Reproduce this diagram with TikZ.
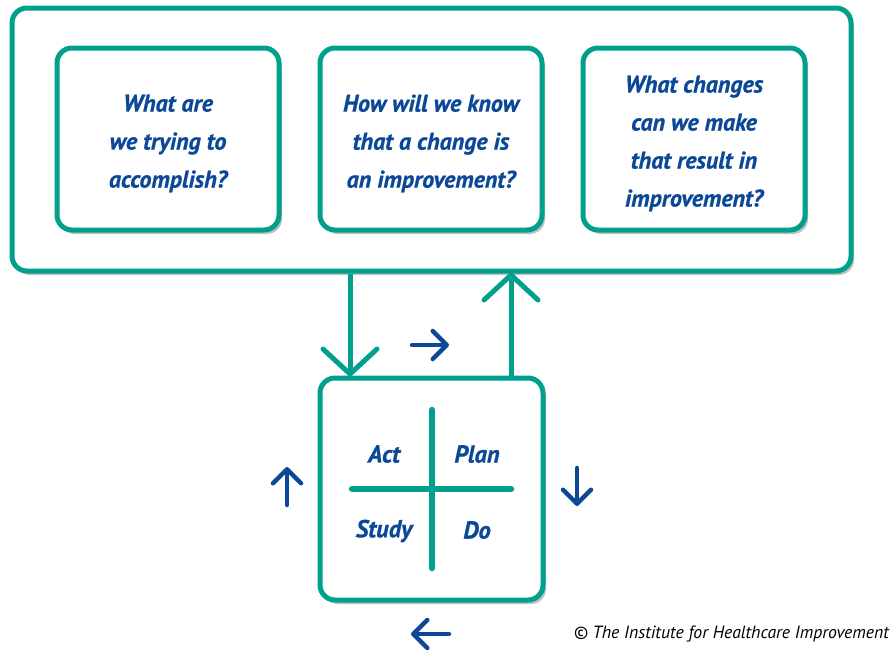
\documentclass[tikz,border=0pt]{standalone}
\usepackage{fontspec}
\setmainfont{PT Sans}[BoldItalicFeatures={FakeBold=0.8}]
\usetikzlibrary{shadows,arrows.meta,calc}
\definecolor{teal1}{RGB}{0,160,140}
\definecolor{blue1}{RGB}{12,72,152}
\tikzset{
  box/.style={draw=teal1, line width=5pt, rounded corners=15pt, fill=white,
    drop shadow={shadow xshift=3pt, shadow yshift=-4pt, opacity=0.35, fill=black!70},
    inner sep=0pt},
  qtext/.style={align=center, font=\fontsize{24}{38}\selectfont\bfseries\itshape, text=blue1, inner sep=0pt},
  lbl/.style={font=\fontsize{24.5}{26}\selectfont\bfseries\itshape, text=blue1, inner sep=0pt},
  bigarrow/.style={draw=teal1, line width=5pt, -{Straight Barb[length=25pt, width=54pt, line cap=round, line join=round]}},
  smallarrow/.style={draw=blue1, line width=4.5pt, line cap=round, -{Straight Barb[length=14pt, width=28pt, line cap=round, line join=round]}},
  crossline/.style={draw=teal1, line width=6.5pt, line cap=round}
}
\begin{document}
\begin{tikzpicture}[x=1pt,y=-1pt]
\useasboundingbox (0,0) rectangle (890,656);
\node[box, minimum width=839pt, minimum height=263pt] (outer) at (431.5,139.5) {};
\node[box, minimum width=222pt, minimum height=182pt] (q1) at (168,139) {};
\node[box, minimum width=222pt, minimum height=182pt] (q2) at (431,139) {};
\node[box, minimum width=222pt, minimum height=182pt] (q3) at (694,139) {};
\node[qtext] (t1) at ([yshift=-4.5pt]q1.center) {What are\\we trying to\\accomplish?};
\node[qtext] (t2) at ([yshift=-4.5pt]q2.center) {How will we know\\that a change is\\an improvement?};
\node[qtext] (t3) at ([yshift=-4.5pt]q3.center) {What changes\\can we make\\that result in\\improvement?};
\node[box, minimum width=223pt, minimum height=222pt] (pdsa) at (431.5,489) {};
\coordinate (dx) at (350,0);
\coordinate (ux) at (511,0);
\draw[bigarrow] (outer.south -| dx) -- ([yshift=-1pt]pdsa.north -| dx);
\draw[bigarrow] (pdsa.north -| ux) -- ([yshift=1pt]outer.south -| ux);
\coordinate (cv1) at (432,410);
\coordinate (cv2) at (432,568);
\coordinate (ch1) at (352,489);
\coordinate (ch2) at (511,489);
\draw[crossline] (cv1) -- (cv2);
\draw[crossline] (ch1) -- (ch2);
\node[lbl] (act) at (384,454) {Act};
\node[lbl] (plan) at (477,454) {Plan};
\node[lbl] (study) at (384,531) {Study};
\node[lbl] (do) at (477,530) {Do};
\coordinate (r1) at (412,345); \coordinate (r2) at (449,345);
\coordinate (dn1) at (577,468); \coordinate (dn2) at (577,506);
\coordinate (l1) at (449,634); \coordinate (l2) at (411,634);
\coordinate (u1) at (287,505); \coordinate (u2) at (287,467);
\draw[smallarrow] (r1) -- (r2);
\draw[smallarrow] (dn1) -- (dn2);
\draw[smallarrow] (l1) -- (l2);
\draw[smallarrow] (u1) -- (u2);
\node[anchor=east, inner sep=0pt, font=\fontsize{17.7}{20}\selectfont\itshape] (copy) at (889,634) {© The Institute for Healthcare Improvement};
\end{tikzpicture}
\end{document}
